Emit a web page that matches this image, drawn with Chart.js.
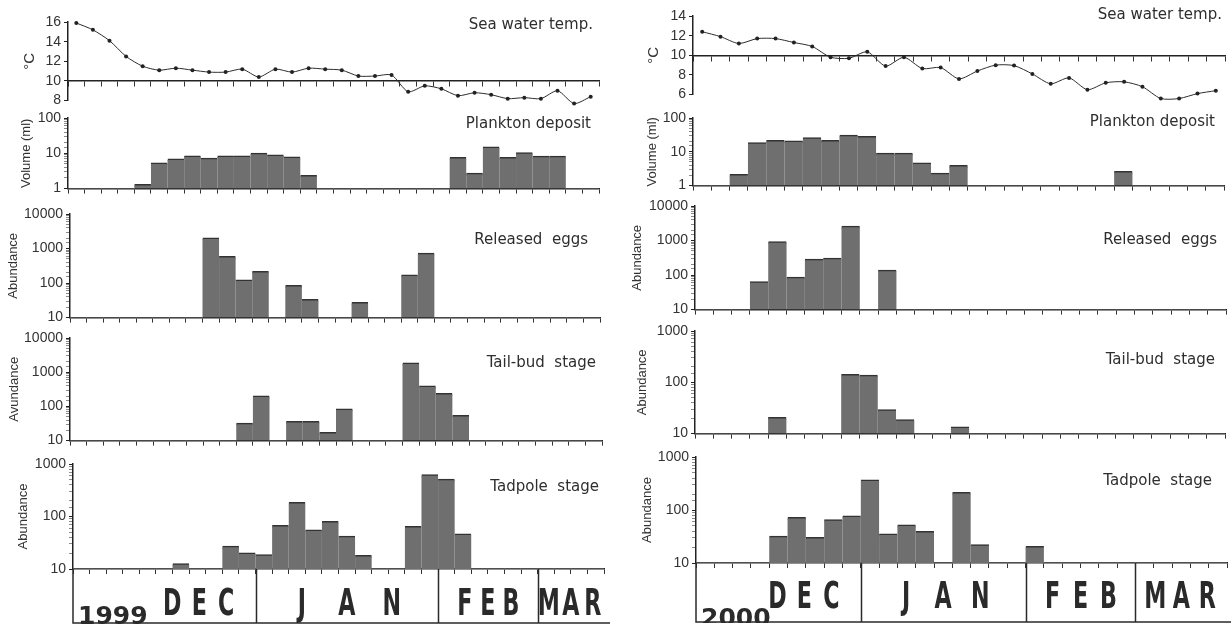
<!DOCTYPE html>
<html>
<head>
<meta charset="utf-8">
<script src="https://cdn.jsdelivr.net/npm/chart.js@4.4.0/dist/chart.umd.min.js"></script>
<style>
  body { margin: 0; background: #fff; width: 1231px; height: 627px; position: relative; overflow: hidden; }
  canvas { position: absolute; }
</style>
</head>
<body>
<script>
// ---- 1999/2000 season, one value per sampling interval ----
var temp1999 = [15.9, 15.2, 14.1, 12.5, 11.5, 11.1, 11.3, 11.1, 10.9, 10.9, 11.2, 10.4, 11.2, 10.9, 11.3, 11.2,
                11.1, 10.5, 10.5, 10.6, 8.9, 9.5, 9.2, 8.5, 8.8, 8.6, 8.2, 8.3, 8.2, 9.0, 7.7, 8.4];
var plankton1999 = [0, 0, 0, 0, 1.3, 5.3, 6.9, 8.3, 7.2, 8.3, 8.3, 10, 8.9, 7.8, 2.35, 0,
                    0, 0, 0, 0, 0, 0, 0, 7.5, 2.7, 15, 7.6, 10.3, 8.2, 8.2, 0, 0];
var eggs1999 = [0, 0, 0, 0, 0, 0, 0, 0, 2000, 580, 122, 215, 0, 84, 33, 0,
                0, 27, 0, 0, 170, 720, 0, 0, 0, 0, 0, 0, 0, 0, 0, 0];
var tailbud1999 = [0, 0, 0, 0, 0, 0, 0, 0, 0, 0, 32, 200, 0, 36, 36, 17,
                   84, 0, 0, 0, 1850, 390, 235, 54, 0, 0, 0, 0, 0, 0, 0, 0];
var tadpole1999 = [0, 0, 0, 0, 0, 0, 12.5, 0, 0, 27, 20, 18.5, 67, 183, 55, 80,
                   42, 18, 0, 0, 64, 620, 510, 46, 0, 0, 0, 0, 0, 0, 0, 0];

// ---- 2000/2001 season ----
var temp2000 = [12.4, 11.9, 11.2, 11.7, 11.7, 11.3, 10.9, 9.8, 9.7, 10.35, 8.9, 9.8, 8.65, 8.75, 7.6,
                8.4, 9.0, 8.95, 8.1, 7.1, 7.7, 6.5, 7.2, 7.3, 6.8, 5.6, 5.6, 6.1, 6.4];
var plankton2000 = [0, 0, 2.1, 18.5, 21.5, 20.6, 25.7, 21.5, 30.8, 28, 9, 9, 4.6, 2.3, 3.9,
                    0, 0, 0, 0, 0, 0, 0, 0, 2.6, 0, 0, 0, 0, 0];
var eggs2000 = [0, 0, 0, 64, 915, 86, 287, 306, 2570, 0, 138, 0, 0, 0, 0,
                0, 0, 0, 0, 0, 0, 0, 0, 0, 0, 0, 0, 0, 0];
var tailbud2000 = [0, 0, 0, 0, 20.4, 0, 0, 0, 142, 137, 29, 18.6, 0, 0, 13.4,
                   0, 0, 0, 0, 0, 0, 0, 0, 0, 0, 0, 0, 0, 0];
var tadpole2000 = [0, 0, 0, 0, 32, 72, 30, 65, 77, 368, 35, 52, 39, 0, 212,
                   22, 0, 0, 20.3, 0, 0, 0, 0, 0, 0, 0, 0, 0, 0];

// months and the interval each one starts at
var months = ['DEC', 'JAN', 'FEB', 'MAR'];
var monthStart1999 = [0, 11, 22, 28];
var monthStart2000 = [0, 9, 18, 24];

Chart.defaults.font.family = '"Liberation Sans", Arial, sans-serif';
Chart.defaults.color = '#333';

var YW = 70, PADT = 12, PADR = 6, XH = 10;

function isPow10(v) {
    var l = Math.log10(v);
    return Math.abs(l - Math.round(l)) < 1e-9;
}

// stage name in the upper right of each panel
var panelTitle = {
    id: 'panelTitle',
    afterDraw: function (chart, args, o) {
        var ctx = chart.ctx, a = chart.chartArea;
        ctx.save();
        ctx.font = '15px "DejaVu Sans", sans-serif';
        ctx.fillStyle = '#2e2e2e';
        ctx.textAlign = 'right';
        ctx.textBaseline = 'middle';
        ctx.fillText(o.text, a.right - o.dx, a.top + o.dy);
        ctx.restore();
    }
};

// month strip under the tadpole panel
var monthBox = {
    id: 'monthBox',
    afterDraw: function (chart, args, o) {
        var ctx = chart.ctx, a = chart.chartArea, x = chart.scales.x;
        var y0 = a.bottom, y1 = chart.height - 1;
        ctx.save();
        ctx.strokeStyle = '#2a2a2a';
        ctx.lineWidth = 1.5;
        ctx.beginPath();
        ctx.moveTo(a.left, y0);
        ctx.lineTo(a.left, y1);
        ctx.lineTo(chart.width, y1);
        o.starts.slice(1).forEach(function (b) {
            var px = Math.round(x.getPixelForValue(b - 0.5)) + 0.5;
            ctx.moveTo(px, y0);
            ctx.lineTo(px, y1);
        });
        ctx.stroke();

        ctx.fillStyle = '#2a2a2a';
        ctx.font = 'bold 25px "DejaVu Sans", sans-serif';
        ctx.textAlign = 'left';
        ctx.textBaseline = 'alphabetic';
        ctx.fillText(o.year, a.left + 5, y1 + o.yearDy);

        months.forEach(function (m, i) {
            var s = x.getPixelForValue(o.starts[i] - 0.5);
            var e = i + 1 < o.starts.length ? x.getPixelForValue(o.starts[i + 1] - 0.5) : a.right;
            var cx = (s + e) / 2 + (i === 0 ? o.shift : 0);
            for (var k = 0; k < m.length; k++) {
                var lx = cx + (k - (m.length - 1) / 2) * o.pitch[i];
                ctx.save();
                ctx.translate(lx, y0 + o.base);
                ctx.scale(0.6, 1);
                ctx.font = 'bold 37px "DejaVu Sans", sans-serif';
                ctx.textAlign = 'center';
                ctx.fillText(m[k], 0, 0);
                ctx.restore();
            }
        });
        ctx.restore();
    }
};

function addPanel(p) {
    var top = Math.round(p.top), bot = Math.round(p.bot);
    var bottomPad = p.line ? 10 : (p.box ? p.box - XH : 0);
    var canvas = document.createElement('canvas');
    canvas.width = p.x1 - p.x0 + YW + PADR;
    canvas.height = bot - top + PADT + (p.line ? 10 : XH) + bottomPad;
    canvas.style.left = (p.x0 - YW) + 'px';
    canvas.style.top = (top - PADT) + 'px';
    document.body.appendChild(canvas);

    var ds = p.line ? {
        type: 'line', data: p.values, borderColor: '#2d2d2d', borderWidth: 1,
        pointRadius: 2, pointBackgroundColor: '#222', pointBorderWidth: 0,
        tension: 0.25, clip: false
    } : {
        type: 'bar', data: p.values, backgroundColor: '#6f6f6f', borderColor: '#333',
        borderWidth: { top: 1.5, left: 0, right: 0, bottom: 0 },
        inflateAmount: 0.6,
        barPercentage: 1, categoryPercentage: 1
    };

    var yScale = p.line ? {
        type: 'linear', min: p.min, max: p.max,
        ticks: { stepSize: 2, padding: 3, font: { size: 14 } }
    } : {
        type: 'logarithmic', min: p.min, max: p.max,
        ticks: {
            autoSkip: false, padding: 3, font: { size: 14 },
            callback: function (v) { return isPow10(v) ? String(v) : ''; }
        }
    };
    yScale.position = 'left';
    yScale.grid = {
        drawOnChartArea: false, tickLength: 4,
        tickColor: function (c) { return c.tick && (p.line || isPow10(c.tick.value)) ? '#222' : '#8a8a8a'; }
    };
    yScale.border = { color: '#222', width: 1.5 };
    var tSize = p.ytitle === '°C' ? 15 : 13;
    yScale.title = {
        display: true, text: p.ytitle, color: '#333',
        font: { size: tSize }, padding: { top: p.tx - tSize * 0.6, bottom: 0 }
    };
    yScale.afterFit = function (s) { s.width = YW; };

    var plugins = [panelTitle];
    if (p.box) plugins.push(monthBox);

    new Chart(canvas, {
        type: p.line ? 'line' : 'bar',
        data: {
            labels: p.values.map(function (v, i) { return String(i + 1); }),
            datasets: [ds]
        },
        options: {
            responsive: false,
            animation: false,
            layout: { padding: { top: PADT, right: PADR, left: 0, bottom: bottomPad } },
            plugins: {
                legend: { display: false },
                tooltip: { enabled: false },
                panelTitle: { text: p.title, dx: p.dx, dy: p.dy },
                monthBox: p.box ? { year: p.year, starts: p.starts, shift: p.shift, pitch: p.pitch, base: p.base, yearDy: p.yearDy } : {}
            },
            scales: {
                x: {
                    type: 'category', offset: true, z: 1,
                    position: p.line ? { y: p.axisAt } : 'bottom',
                    grid: { offset: true, drawOnChartArea: false, drawTicks: true, tickLength: 5, tickColor: '#333' },
                    border: { color: '#222', width: 1.5 },
                    ticks: { display: false },
                    afterFit: function (s) { if (!p.line) s.height = XH; }
                },
                y: yScale
            }
        },
        plugins: plugins
    });
}

// left column: 1999
[
    { values: temp1999, line: true, min: 8, max: 16, axisAt: 10, x0: 68, x1: 599, top: 22, bot: 92,
      ytitle: '°C', tx: 32, title: 'Sea water temp.', dx: 6, dy: 3 },
    { values: plankton1999, min: 1, max: 100, x0: 68, x1: 599, top: 118, bot: 190,
      ytitle: 'Volume (ml)', tx: 28, title: 'Plankton deposit', dx: 8, dy: 6 },
    { values: eggs1999, min: 10, max: 10000, x0: 70, x1: 600, top: 214, bot: 319,
      ytitle: 'Abundance', tx: 13, title: 'Released  eggs', dx: 12, dy: 26 },
    { values: tailbud1999, min: 10, max: 10000, x0: 70, x1: 602, top: 338, bot: 442,
      ytitle: 'Avundance', tx: 14, title: 'Tail-bud  stage', dx: 6, dy: 25 },
    { values: tadpole1999, min: 10, max: 1000, x0: 73, x1: 604, top: 464, bot: 569,
      ytitle: 'Abundance', tx: 20, title: 'Tadpole  stage', dx: 5, dy: 23,
      box: 55, year: '1999', starts: monthStart1999, shift: 35, pitch: [27, 45, 23, 22], base: 46, yearDy: 1 }
].forEach(addPanel);

// right column: 2000
[
    { values: temp2000, line: true, min: 6, max: 14, axisAt: 10, x0: 693, x1: 1225, top: 16, bot: 86,
      ytitle: '°C', tx: 31, title: 'Sea water temp.', dx: 3, dy: -1 },
    { values: plankton2000, min: 1, max: 100, x0: 693, x1: 1224, top: 118, bot: 187,
      ytitle: 'Volume (ml)', tx: 29, title: 'Plankton deposit', dx: 9, dy: 4 },
    { values: eggs2000, min: 10, max: 10000, x0: 695, x1: 1226, top: 206, bot: 311,
      ytitle: 'Abundance', tx: 12, title: 'Released  eggs', dx: 9, dy: 34 },
    { values: tailbud2000, min: 10, max: 1000, x0: 695, x1: 1225, top: 331, bot: 435,
      ytitle: 'Abundance', tx: 17, title: 'Tail-bud  stage', dx: 10, dy: 29 },
    { values: tadpole2000, min: 10, max: 1000, x0: 696, x1: 1227, top: 457, bot: 563,
      ytitle: 'Abundance', tx: 21, title: 'Tadpole  stage', dx: 15, dy: 24,
      box: 60, year: '2000', starts: monthStart2000, shift: 26, pitch: [27, 37, 28, 26], base: 45, yearDy: 4 }
].forEach(addPanel);
</script>
</body>
</html>
